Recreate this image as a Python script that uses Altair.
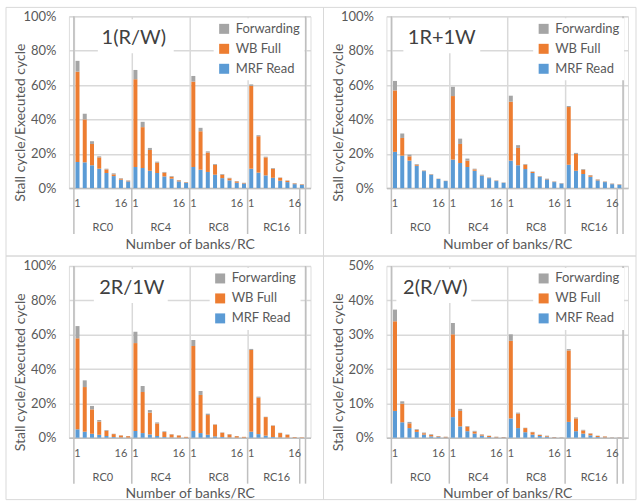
import altair as alt
import pandas as pd

groups = ["RC0", "RC4", "RC8", "RC16"]
banks = ["1", "2", "3", "4", "6", "8", "16", "32"]
shown_banks = ["1", "16"]
series = ["MRF Read", "WB Full", "Forwarding"]
legend_order = ["Forwarding", "WB Full", "MRF Read"]
colors = ["#A5A5A5", "#ED7D31", "#5B9BD5"]
inner_separators = [8, 16, 24, 31.2]
outer_separators = [0, 32]

# values in percent, 8 bars per group: RC0, RC4, RC8, RC16
p1_title = "1(R/W)"
p1_mrf = [15.2, 15.0, 13.3, 11.3, 8.8, 7.0, 4.9, 3.9,
          12.3, 11.7, 10.1, 8.8, 6.8, 5.5, 3.9, 3.1,
          12.3, 10.7, 9.4, 7.8, 5.8, 4.5, 3.1, 2.7,
          11.3, 9.0, 7.4, 6.0, 4.3, 3.5, 2.3, 1.9]
p1_wb = [52.6, 25.0, 12.4, 6.6, 2.1, 1.0, 0.6, 0.4,
         51.1, 23.8, 12.1, 6.0, 2.2, 1.1, 0.6, 0.3,
         49.7, 22.4, 11.3, 5.7, 2.0, 1.2, 0.8, 0.3,
         48.2, 21.2, 10.5, 5.3, 1.7, 0.8, 0.4, 0.3]
p1_fw = [6.3, 3.3, 1.6, 0.6, 0.4, 0.6, 0.3, 0.2,
         5.4, 3.1, 1.2, 0.6, 0.4, 0.4, 0.2, 0.1,
         3.3, 2.0, 0.7, 0.5, 0.4, 0.3, 0.2, 0.1,
         0.9, 0.6, 0.4, 0.4, 0.2, 0.2, 0.2, 0.1]

p2_title = "1R+1W"
p2_mrf = [21.1, 18.9, 16.0, 13.0, 9.9, 7.8, 5.3, 4.1,
          16.6, 14.6, 12.3, 10.1, 7.2, 5.8, 4.1, 3.1,
          16.0, 13.3, 11.1, 8.8, 6.6, 5.1, 3.5, 2.7,
          13.6, 10.1, 8.2, 6.6, 4.5, 3.5, 2.3, 1.9]
p2_wb = [35.8, 10.3, 2.5, 0.6, 0.2, 0.2, 0.1, 0.1,
         37.0, 11.1, 3.7, 0.8, 0.2, 0.2, 0.2, 0.1,
         34.3, 10.1, 2.5, 0.6, 0.2, 0.2, 0.2, 0.1,
         33.6, 9.8, 2.5, 0.8, 0.4, 0.2, 0.2, 0.2]
p2_fw = [5.5, 2.6, 1.0, 0.4, 0.2, 0.2, 0.1, 0.1,
         5.4, 3.1, 1.2, 0.4, 0.4, 0.2, 0.2, 0.1,
         3.5, 1.6, 0.4, 0.3, 0.2, 0.2, 0.2, 0.1,
         0.6, 0.6, 0.4, 0.2, 0.2, 0.2, 0.2, 0.2]

p3_title = "2R/1W"
p3_mrf = [4.9, 3.5, 2.3, 1.7, 1.0, 0.4, 0.2, 0.1,
          3.9, 2.7, 1.9, 1.0, 0.4, 0.2, 0.1, 0.1,
          3.9, 2.7, 1.7, 0.8, 0.4, 0.2, 0.1, 0.1,
          3.5, 2.1, 1.2, 0.4, 0.2, 0.1, 0.1, 0.0]
p3_wb = [53.0, 26.0, 14.2, 7.7, 3.1, 1.7, 1.1, 0.8,
         51.2, 23.9, 12.7, 7.3, 2.9, 1.7, 1.2, 0.4,
         49.5, 22.2, 11.5, 6.8, 2.5, 1.7, 0.8, 0.4,
         47.6, 21.2, 10.8, 6.6, 2.5, 1.6, 0.3, 0.2]
p3_fw = [7.1, 3.9, 2.0, 0.9, 0.4, 0.2, 0.1, 0.1,
         6.6, 3.5, 1.5, 0.6, 0.4, 0.2, 0.1, 0.0,
         3.5, 2.3, 0.8, 0.2, 0.2, 0.2, 0.1, 0.0,
         0.6, 0.6, 0.2, 0.2, 0.2, 0.2, 0.0, 0.0]

p4_title = "2(R/W)"
p4_mrf = [7.8, 4.5, 2.8, 1.7, 0.9, 0.4, 0.2, 0.1,
          6.0, 3.3, 1.9, 1.2, 0.6, 0.2, 0.1, 0.1,
          5.6, 2.8, 1.6, 0.9, 0.5, 0.3, 0.1, 0.05,
          4.6, 1.9, 1.2, 0.7, 0.2, 0.1, 0.05, 0.05]
p4_wb = [26.1, 5.4, 1.4, 0.6, 0.4, 0.4, 0.2, 0.15,
         24.1, 4.5, 1.3, 0.6, 0.3, 0.3, 0.15, 0.1,
         22.6, 4.2, 1.2, 0.7, 0.3, 0.2, 0.1, 0.05,
         20.8, 3.7, 0.9, 0.5, 0.3, 0.25, 0.05, 0.05]
p4_fw = [3.4, 0.7, 0.4, 0.2, 0.2, 0.2, 0.1, 0.05,
         3.3, 0.6, 0.2, 0.2, 0.1, 0.1, 0.05, 0.0,
         1.9, 0.3, 0.1, 0.1, 0.1, 0.1, 0.0, 0.0,
         0.4, 0.3, 0.2, 0.1, 0.1, 0.05, 0.0, 0.0]

yticks_100 = [0, 0.2, 0.4, 0.6, 0.8, 1.0]
yticks_50 = [0, 0.1, 0.2, 0.3, 0.4, 0.5]

W, H = 242, 172
TXT = "#595959"
GRID = "#d9d9d9"
SEP = "#bfbfbf"
FONT = "Lato"


def panel(title, mrf, wb, fw, ymax, yticks, box, text_x, leg_x, frame):
    nb = len(banks)
    n = len(groups) * nb
    rows = []
    for si, (s, vals) in enumerate(zip(series, (mrf, wb, fw))):
        for i, v in enumerate(vals):
            gi, bi = divmod(i, nb)
            rows.append({"series": s, "stack": si, "group": groups[gi],
                         "bank": banks[bi], "slot": gi * nb + bi + 0.5,
                         "value": v / 100})
    df = pd.DataFrame(rows)
    xs = alt.Scale(domain=[0, n], nice=False, zero=False)

    one = pd.DataFrame({"k": [0]})
    frame_m = alt.Chart(one).mark_rect(fill="transparent", stroke=GRID, strokeWidth=1).encode(
        x=alt.value(frame[0]), x2=alt.value(frame[1]),
        y=alt.value(frame[2]), y2=alt.value(frame[3]))

    bars = alt.Chart(df).mark_bar(width=4).encode(
        x=alt.X("slot:Q", scale=xs,
                axis=alt.Axis(values=list(range(n + 1)), grid=True, labels=False,
                              ticks=False, domainColor=SEP, domainWidth=1.5,
                              gridColor=GRID, gridWidth=1.5,
                              title="Number of banks/RC", titleFontSize=14,
                              titleFontWeight="normal", titleColor=TXT,
                              titleY=56, titleBaseline="middle", titleFont=FONT)),
        y=alt.Y("value:Q", stack="zero",
                scale=alt.Scale(domain=[0, ymax], nice=False),
                axis=alt.Axis(values=yticks, format=".0%", grid=True, gridColor=GRID,
                              gridWidth=1.5, domain=False, ticks=False, tickSize=0,
                              labelPadding=13, labelFontSize=13, labelColor=TXT,
                              labelFont=FONT,
                              title="Stall cycle/Executed cycle", titleFontSize=14,
                              titleFontWeight="normal", titleColor=TXT, titleFont=FONT,
                              titleX=-48, titleY=106, titleBaseline="middle",
                              titleAngle=270)),
        color=alt.Color("series:N", scale=alt.Scale(domain=legend_order, range=colors),
                        legend=alt.Legend(orient="none", legendX=leg_x, legendY=2,
                                          title=None, fillColor="white", padding=4,
                                          symbolType="square", symbolSize=100,
                                          symbolStrokeWidth=0, labelFontSize=13,
                                          labelColor=TXT, labelFont=FONT,
                                          rowPadding=6, labelOffset=5)),
        order=alt.Order("stack:Q", sort="ascending"),
    )

    tbox = alt.Chart(one).mark_rect(fill="white").encode(
        x=alt.value(box[0]), x2=alt.value(box[1]), y=alt.value(3), y2=alt.value(37))
    ttext = alt.Chart(pd.DataFrame({"t": [title]})).mark_text(
        fontSize=20, color="#404040", font=FONT, baseline="middle").encode(
        x=alt.value(text_x), y=alt.value(22), text="t:N")

    bank_lbl = alt.Chart(df).transform_filter(
        alt.FieldOneOfPredicate(field="bank", oneOf=shown_banks)
    ).transform_filter(alt.datum.stack == 0).mark_text(
        fontSize=11, color=TXT, font=FONT, baseline="middle").encode(
        x=alt.X("slot:Q", scale=xs), y=alt.value(H + 16), text="bank:N")

    gdf = pd.DataFrame({"group": groups,
                        "slot": [i * nb + nb / 2 for i in range(len(groups))]})
    grp_lbl = alt.Chart(gdf).mark_text(
        fontSize=11, color=TXT, font=FONT, baseline="middle").encode(
        x=alt.X("slot:Q", scale=xs), y=alt.value(H + 40), text="group:N")

    sep_in = alt.Chart(pd.DataFrame({"slot": inner_separators})).mark_rule(
        color=SEP, strokeWidth=1.5).encode(
        x=alt.X("slot:Q", scale=xs), y=alt.value(H), y2=alt.value(H + 46))
    sep_out = alt.Chart(pd.DataFrame({"slot": outer_separators})).mark_rule(
        color=SEP, strokeWidth=1.5).encode(
        x=alt.X("slot:Q", scale=xs), y=alt.value(0), y2=alt.value(H + 46))

    return alt.layer(frame_m, tbox, ttext, bars, sep_in, sep_out, bank_lbl, grp_lbl).properties(
        width=W, height=H)


c1 = panel(p1_title, p1_mrf, p1_wb, p1_fw, 1.0, yticks_100, (29, 105), 65, 145, (-63, 255, -9, 240))
c2 = panel(p2_title, p2_mrf, p2_wb, p2_fw, 1.0, yticks_100, (17, 94), 55.5, 147, (-63, 250, -9, 240))
c3 = panel(p3_title, p3_mrf, p3_wb, p3_fw, 1.0, yticks_100, (25, 99), 63, 141, (-63, 255, -10, 234))
c4 = panel(p4_title, p4_mrf, p4_wb, p4_fw, 0.5, yticks_50, (10, 85), 49, 147, (-63, 250, -10, 234))

chart = alt.concat(c1, c2, c3, c4, columns=2, bounds="flush",
                   spacing={"row": 78, "column": 76}).resolve_scale(
    color="independent", x="independent", y="independent").properties(
    padding={"left": 5, "top": 6, "right": 0, "bottom": 0},
    autosize=alt.AutoSizeParams(type="pad"),
    background="white",
).configure_view(strokeWidth=0).configure(font=FONT)

chart.save("out.html", embed_options={"renderer": "svg", "actions": False})
